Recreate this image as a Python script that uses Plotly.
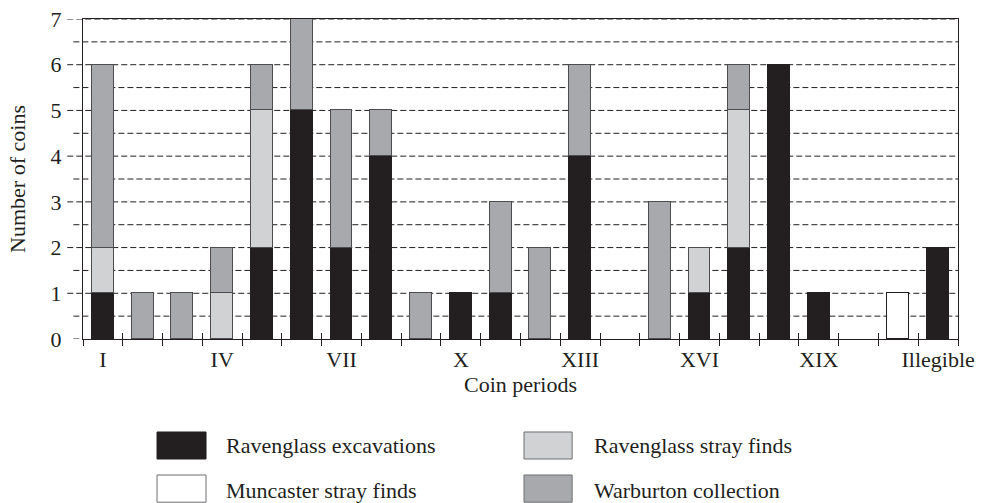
import plotly.graph_objects as go

categories = ["I", "II", "III", "IV", "V", "VI", "VII", "VIII", "IX", "X", "XI",
              "XII", "XIII", "XIV", "XV", "XVI", "XVII", "XVIII", "XIX", "XX", "XXI", "Illegible"]
excavations = [1, 0, 0, 0, 2, 5, 2, 4, 0, 1, 1, 0, 4, 0, 0, 1, 2, 6, 1, 0, 0, 2]
stray_finds = [1, 0, 0, 1, 3, 0, 0, 0, 0, 0, 0, 0, 0, 0, 0, 1, 3, 0, 0, 0, 0, 0]
warburton = [4, 1, 1, 1, 1, 2, 3, 1, 1, 0, 2, 2, 2, 0, 3, 0, 1, 0, 0, 0, 0, 0]
muncaster = [0, 0, 0, 0, 0, 0, 0, 0, 0, 0, 0, 0, 0, 0, 0, 0, 0, 0, 0, 0, 1, 0]
label_every = 3
y_max = 7

series = [
    ("Ravenglass excavations", excavations, "#231f20", "#231f20"),
    ("Ravenglass stray finds", stray_finds, "#d1d2d4", "#4d4d4f"),
    ("Warburton collection", warburton, "#a7a9ac", "#4d4d4f"),
    ("Muncaster stray finds", muncaster, "#ffffff", "#231f20"),
]

FONT = "Liberation Serif"
FS = 22
xs = list(range(len(categories)))

fig = go.Figure()
for name, vals, fill, line in series:
    fig.add_trace(go.Bar(
        x=xs, y=[v if v else None for v in vals], name=name, width=0.55,
        marker=dict(color=fill, line=dict(color=line, width=1)),
        showlegend=False,
    ))

# invisible trace to create overlaying axis for inside tick marks
fig.add_trace(go.Scatter(x=[], y=[], xaxis="x2", showlegend=False))

bounds = [i - 0.5 for i in range(len(categories) + 1)]
label_idx = xs[::label_every]

# dashed gridlines (every 0.5), extended left of the axis like ticks
shapes = []
n_half = y_max * 2
for k in range(1, n_half + 1):
    yv = k / 2
    ext = -0.018 if k % 2 == 0 else -0.011
    shapes.append(dict(type="line", xref="paper", yref="y", x0=ext, x1=1, y0=yv, y1=yv,
                       line=dict(color="#231f20", width=1, dash="6px,3px"), layer="below"))
shapes.append(dict(type="line", xref="paper", yref="y", x0=-0.011, x1=0, y0=0, y1=0,
                   line=dict(color="#231f20", width=1, dash="6px,3px"), layer="below"))

# custom legend
legend_pos = [
    (0, (0.0846, 0.1406, -0.2906, -0.375), (0.1610, -0.334)),
    (1, (0.504, 0.559, -0.2906, -0.375), (0.582, -0.334)),
    (3, (0.0846, 0.1406, -0.425, -0.51), (0.1610, -0.472)),
    (2, (0.504, 0.559, -0.425, -0.51), (0.582, -0.472)),
]
annotations = []
for si, (x0, x1, y0, y1), (tx, ty) in legend_pos:
    name, _, fill, line = series[si]
    lc = fill if si == 0 else "#6d6e71"
    shapes.append(dict(type="rect", xref="paper", yref="paper", x0=x0, x1=x1, y0=y0, y1=y1,
                       fillcolor=fill, line=dict(color=lc, width=1)))
    annotations.append(dict(xref="paper", yref="paper", x=tx, y=ty, text=name, showarrow=False,
                            xanchor="left", yanchor="middle",
                            font=dict(family=FONT, size=FS, color="#231f20")))

fig.update_layout(
    template="none",
    width=982, height=503,
    margin=dict(l=83, r=24, t=19, b=164, autoexpand=False),
    barmode="stack", bargap=0,
    plot_bgcolor="white", paper_bgcolor="white",
    font=dict(family=FONT, size=FS, color="#231f20"),
    shapes=shapes, annotations=annotations,
    xaxis=dict(
        automargin=False,
        range=[-0.5, len(categories) - 0.5],
        tickmode="array", tickvals=label_idx, ticktext=[categories[i] for i in label_idx],
        ticks="outside", ticklen=1, tickcolor="rgba(0,0,0,0)",
        minor=dict(tickmode="array", tickvals=bounds, ticks="outside", ticklen=6,
                   tickcolor="#231f20", tickwidth=1, showgrid=False),
        showline=True, linecolor="#231f20", linewidth=1, mirror=True,
        showgrid=False, zeroline=False,
        title=dict(text="Coin periods", standoff=0, font=dict(size=FS)),
        tickfont=dict(size=FS),
    ),
    xaxis2=dict(
        automargin=False,
        overlaying="x", matches="x", side="bottom", anchor="y",
        range=[-0.5, len(categories) - 0.5],
        tickmode="array", tickvals=bounds, ticks="inside", ticklen=6,
        tickcolor="#231f20", showticklabels=False, showgrid=False, zeroline=False,
        showline=False,
    ),
    yaxis=dict(
        automargin=False,
        range=[0, y_max], dtick=1, tick0=0,
        ticks="outside", ticklen=16, tickcolor="rgba(0,0,0,0)",
        showline=True, linecolor="#231f20", linewidth=1, mirror=True,
        showgrid=False, zeroline=False,
        title=dict(text="Number of coins", standoff=18, font=dict(size=FS)),
        tickfont=dict(size=FS),
    ),
)

fig.write_html("out.html", config={"displayModeBar": False},
               post_script="document.body.style.margin='0px';")
